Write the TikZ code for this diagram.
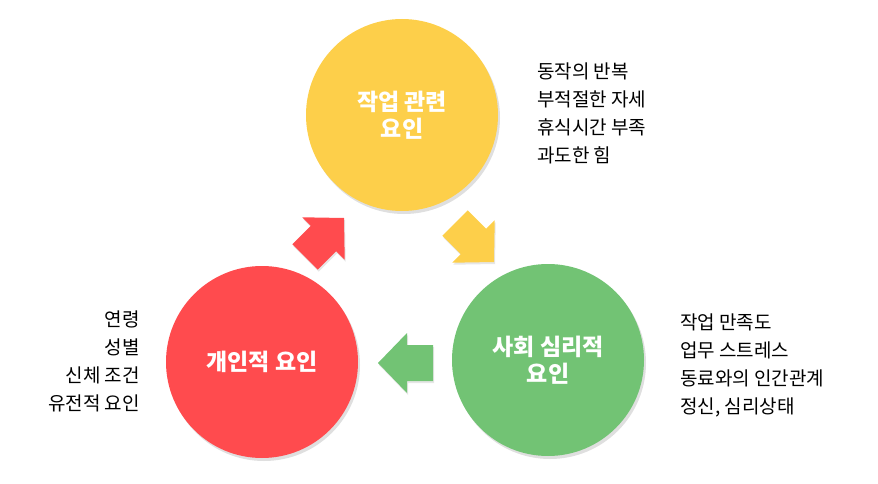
\documentclass[tikz,border=0pt]{standalone}
\usepackage{fontspec}
\setmainfont{Noto Sans CJK KR}
\usetikzlibrary{shadows}
\definecolor{cy}{HTML}{FDCF4A}
\definecolor{cr}{HTML}{FF4B4E}
\definecolor{cg}{HTML}{72C374}
\tikzset{
 circ/.style={circle,minimum size=192pt,inner sep=0pt,drop shadow={shadow xshift=2pt,shadow yshift=-3pt,opacity=0.25},text=white,font=\fontsize{23}{27}\selectfont\bfseries,align=center},
 side/.style={font=\fontsize{19}{28}\selectfont,inner sep=0pt},
 barrow/.style={drop shadow={shadow xshift=1pt,shadow yshift=-2pt,opacity=0.2}}
}
\newcommand{\blockarrow}[4]{% x y rot color
 \fill[#4,barrow,shift={(#1,#2)},rotate=#3] (0,0) -- (-29,30) -- (-29,18) -- (-55,18) -- (-55,-18) -- (-29,-18) -- (-29,-30) -- cycle;}
\begin{document}
\begin{tikzpicture}[x=1pt,y=-1pt]
\useasboundingbox (0,0) rectangle (878,484);
\node[circ,fill=cy] (work) at (402,115) {작업 관련\\요인};
\node[circ,fill=cr] (pers) at (262,362) {개인적 요인};
\node[circ,fill=cg] (soc) at (548,360) {사회 심리적\\요인};
\blockarrow{378}{363}{180}{cg}
\blockarrow{344}{218}{45}{cr}
\blockarrow{494}{262}{-45}{cy}
\node[side,anchor=north west,align=left] (t1) at (537,63) {동작의 반복\\부적절한 자세\\휴식시간 부족\\과도한 힘};
\node[side,anchor=north west,align=left] (t2) at (680,314) {작업 만족도\\업무 스트레스\\동료와의 인간관계\\정신, 심리상태};
\node[side,anchor=north east,align=right] (t3) at (140,311) {연령\\성별\\신체 조건\\유전적 요인};
\end{tikzpicture}
\end{document}
